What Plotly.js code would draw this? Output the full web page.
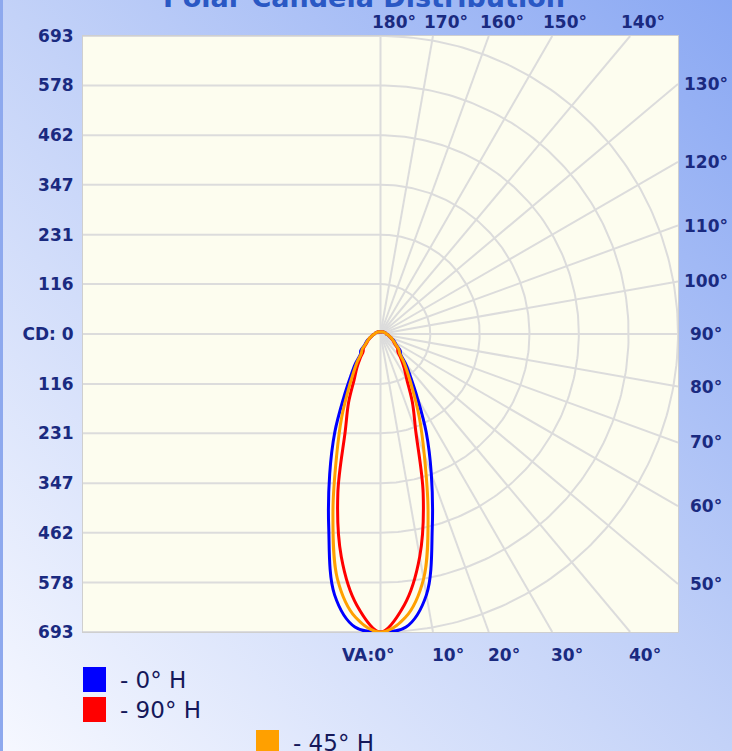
<!DOCTYPE html>
<html>
<head>
<meta charset="utf-8">
<script src="https://cdn.plot.ly/plotly-3.0.1.min.js"></script>
<style>
  html, body { margin: 0; padding: 0; }
  #wrap { position: relative; width: 732px; height: 751px; overflow: hidden;
    background: linear-gradient(to top right, #f6f8ff 0%, #c3d2f8 50%, #8aa8f3 100%); }
  #strip { position: absolute; left: 0; top: 0; width: 3px; height: 751px; background: #8ea9ee; }
  #chart { position: absolute; left: 0; top: 0; width: 732px; height: 751px; }
</style>
</head>
<body>
<div id="wrap"><div id="strip"></div><div id="chart"></div></div>
<script>
// ---- data ----
const verticalAngles = [0,5,10,15,20,25,30,35,40,45,50,55,60,65,70,75,80,85,90,95,100,105,110,115,120,125,130,135,140,145,150,155,160,165,170,175,180];
const cd0H  = [693,684,616,466,346,252,172,122,92,66,60,45,39,33,27,22,19,16,14,13,12,11,10,9,9,8,8,7,7,6,6,6,5,5,5,5,5];
const cd90H = [693,633,526,384,240,176,123,96,74,57,52,41,35,30,26,22,19,16,14,13,12,11,10,9,9,8,8,7,7,6,6,6,5,5,5,5,5];
const cd45H = [693,662,578,428,298,214,150,110,84,63,56,43,37,31,27,22,19,16,14,13,12,11,10,9,9,8,8,7,7,6,6,6,5,5,5,5,5];
const seriesNames = ['- 0° H', '- 90° H', '- 45° H'];
const seriesColors = ['#0000ff', '#ff0000', '#ffa000'];

const cdMax = 693;
const cdTickValues = [-693,-578,-462,-347,-231,-116,0,116,231,347,462,578,693];
const cdTickLabels = ['693','578','462','347','231','116','CD: 0','116','231','347','462','578','693'];
const ringValues = [116,231,347,462,578,693];
const radialAngles = [0,10,20,30,40,50,60,70,80,90,100,110,120,130,140,150,160,170,180];
const bottomAngles = [0,10,20,30,40];
const bottomLabels = ['VA:0°','10°','20°','30°','40°'];
const topAngles = [180,170,160,150,140];
const topLabels = ['180°','170°','160°','150°','140°'];
const rightAngles = [130,120,110,100,90,80,70,60,50];
const rightLabels = ['130°','120°','110°','100°','90°','80°','70°','60°','50°'];

// ---- helpers ----
const rad = d => d * Math.PI / 180;
function polarXY(I, deg) { return [I * Math.sin(rad(deg)), -I * Math.cos(rad(deg))]; }

// grid
const gx = [], gy = [];
cdTickValues.forEach(v => { gx.push(-cdMax, 0, null); gy.push(v, v, null); });
ringValues.forEach(r => {
  for (let a = 0; a <= 180; a += 1) { const p = polarXY(r, a); gx.push(p[0]); gy.push(p[1]); }
  gx.push(null); gy.push(null);
});
radialAngles.forEach(a => {
  const s = Math.abs(Math.sin(rad(a))), c = Math.abs(Math.cos(rad(a)));
  const len = cdMax / Math.max(s, c);
  const p = polarXY(len, a);
  gx.push(0, p[0], null); gy.push(0, p[1], null);
});

const traces = [{
  x: gx, y: gy, mode: 'lines', type: 'scatter', hoverinfo: 'skip', showlegend: false,
  line: { color: '#dcdcdc', width: 2 }
}];

const allSeries = [cd0H, cd90H, cd45H];
allSeries.forEach((vals, k) => {
  const xs = [], ys = [];
  for (let i = 0; i < verticalAngles.length; i++) { const p = polarXY(vals[i], verticalAngles[i]); xs.push(p[0]); ys.push(p[1]); }
  for (let i = verticalAngles.length - 2; i >= 0; i--) { const p = polarXY(vals[i], verticalAngles[i]); xs.push(-p[0]); ys.push(p[1]); }
  traces.push({ x: xs, y: ys, mode: 'lines', type: 'scatter', name: seriesNames[k], showlegend: false,
    line: { color: seriesColors[k], width: 3, shape: 'spline', smoothing: 1 } });
});

const labelFont = { family: 'DejaVu Sans', size: 17, color: '#1a2a80', weight: 'bold' };
const annotations = [];
bottomAngles.forEach((a, i) => {
  annotations.push({ x: cdMax * Math.tan(rad(a)), y: -cdMax, xref: 'x', yref: 'y', text: bottomLabels[i],
    showarrow: false, font: labelFont, xanchor: 'center', yanchor: 'middle', yshift: -23, xshift: a === 0 ? -12 : 15 });
});
topAngles.forEach((a, i) => {
  annotations.push({ x: cdMax * Math.tan(rad(180 - a)), y: cdMax, xref: 'x', yref: 'y', text: topLabels[i],
    showarrow: false, font: labelFont, xanchor: 'center', yanchor: 'middle', yshift: 14, xshift: 13 });
});
rightAngles.forEach((a, i) => {
  annotations.push({ x: cdMax, y: -cdMax * Math.cos(rad(a)) / Math.sin(rad(a)), xref: 'x', yref: 'y', text: rightLabels[i],
    showarrow: false, font: labelFont, xanchor: 'center', yanchor: 'middle', xshift: 28 });
});

// pixel -> paper helpers for title & legend
const L = 83, T = 36, PW = 595, PH = 596;
const px = v => (v - L) / PW;
const py = v => (T + PH - v) / PH;

annotations.push({ x: px(364), y: py(7), xref: 'paper', yref: 'paper', text: 'Polar Candela Distribution',
  showarrow: false, xanchor: 'center', yanchor: 'bottom', yshift: -8,
  font: { family: 'DejaVu Sans', size: 27, color: '#2a58c4', weight: 'bold' } });

const legendPos = [[83, 667], [83, 697], [256, 730]];
const shapes = [];
seriesNames.forEach((n, k) => {
  const [lx, ly] = legendPos[k];
  shapes.push({ type: 'rect', xref: 'paper', yref: 'paper', x0: px(lx), x1: px(lx + 23), y0: py(ly), y1: py(ly + 25),
    fillcolor: seriesColors[k], line: { width: 0 } });
  annotations.push({ x: px(lx + 35), y: py(ly + 13), xref: 'paper', yref: 'paper', text: n, showarrow: false,
    xanchor: 'left', yanchor: 'middle', font: { family: 'DejaVu Sans', size: 23, color: '#15185a' } });
});

const layout = {
  width: 732, height: 751,
  margin: { l: L, r: 732 - L - PW, t: T, b: 751 - T - PH, pad: 0 },
  paper_bgcolor: 'rgba(0,0,0,0)', plot_bgcolor: '#fdfdef',
  showlegend: false,
  xaxis: { range: [-cdMax, cdMax], showgrid: false, zeroline: false, showticklabels: false, ticks: '',
    showline: true, mirror: true, linecolor: '#cfcfcf', linewidth: 1, fixedrange: true },
  yaxis: { range: [-cdMax, cdMax], showgrid: false, zeroline: false, tickvals: cdTickValues, ticktext: cdTickLabels,
    ticks: 'outside', ticklen: 5, tickcolor: 'rgba(0,0,0,0)', tickfont: labelFont,
    showline: true, mirror: true, linecolor: '#cfcfcf', linewidth: 1, fixedrange: true },
  annotations: annotations,
  shapes: shapes
};

Plotly.newPlot('chart', traces, layout, { displayModeBar: false, staticPlot: true });
</script>
</body>
</html>
